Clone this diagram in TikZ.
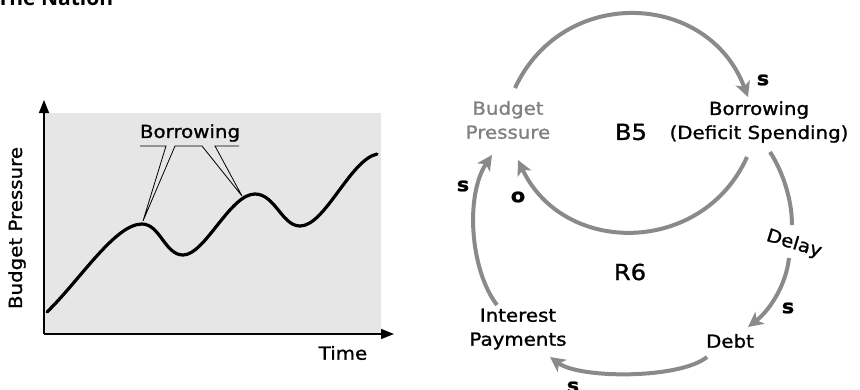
\documentclass[tikz,border=0pt]{standalone}
\usepackage{fontspec}
\setmainfont[FakeStretch=1.1, FakeBold=1.2]{DejaVu Sans}
\newfontfamily\titlefont{Open Sans}
\usetikzlibrary{arrows.meta}
\definecolor{loopgray}{RGB}{138,138,138}
\definecolor{panelgray}{RGB}{230,230,230}
\definecolor{vargray}{RGB}{128,128,128}
\begin{document}
\begin{tikzpicture}[x=1pt,y=-1pt,
  lbl/.style={font=\fontsize{18}{24}\selectfont, align=center, inner sep=0pt},
  chartlbl/.style={font=\fontsize{18}{18}\selectfont, inner sep=0pt},
  pol/.style={font=\bfseries\fontsize{19}{19}\selectfont, inner sep=0pt},
  loopname/.style={font=\fontsize{22}{22}\selectfont, inner sep=0pt},
  link/.style={draw=loopgray, line width=4pt, -{Stealth[length=15pt,width=15pt,inset=4pt]}},
  plainlink/.style={draw=loopgray, line width=4pt},
  axis/.style={draw=black, line width=1.5pt, -{Triangle[length=13pt,width=10pt]}},
  callout/.style={draw=black, line width=0.8pt},
]
\useasboundingbox (0,0) rectangle (860,389);

% title (cut off at the top)
\node[anchor=base west, inner sep=0pt, font=\titlefont\bfseries\fontsize{21}{21}\selectfont] (title) at (-3,5) {The Nation};

% ---------- left chart ----------
\fill[panelgray] (45,113) rectangle (381,334);
\coordinate (origin) at (44,334);
\coordinate (ytip) at (44,100);
\coordinate (xtip) at (394,334);
\draw[axis] (origin) -- (ytip);
\draw[axis] (origin) -- (xtip);
\node[chartlbl, rotate=90] (ylab) at (17,228) {Budget Pressure};
\node[chartlbl] (xlab) at (343,353) {Time};

\draw[line width=3.2pt, line cap=round]
  (47,312) .. controls (80,280) and (115,224) .. (142,224)
           .. controls (160,224) and (165,255) .. (183,255)
           .. controls (205,255) and (230,194) .. (255,194)
           .. controls (275,194) and (282,226) .. (300,226)
           .. controls (325,226) and (350,160) .. (377,154);

\node[chartlbl] (borrowlbl) at (190,133) {Borrowing};
\coordinate (peakA) at (143,221);
\coordinate (peakB) at (242,196);
\draw[callout] (140,146) -- (166,146) -- (peakA) -- (175,146) -- (202,146) -- (peakB) -- (215,146) -- (239,146);

% ---------- right loop diagram ----------
\node[lbl, text=vargray] (bp) at (508,120) {Budget\\Pressure};
\node[lbl] (borr) at (759,122) {Borrowing\\(Deficit Spending)};
\node[lbl] (debt) at (730,341) {Debt};
\node[lbl] (intp) at (518,329) {Interest\\Payments};
\node[lbl, rotate=-17] (delay) at (794,244) {Delay};

\node[loopname] (b5) at (631,132) {B5};
\node[loopname] (r6) at (630,272) {R6};

\coordinate (bpTop) at (515,88);
\coordinate (borrTop) at (748,97);
\coordinate (borrBot) at (747,157);
\coordinate (bpBot) at (518,160);
\coordinate (borrRight) at (770,152);
\coordinate (delayTop) at (792,225);
\coordinate (delayBot) at (789,258);
\coordinate (debtTop) at (748,327);
\coordinate (debtLeft) at (707,357);
\coordinate (intRight) at (550,357);
\coordinate (intTop) at (497,305);
\coordinate (bpLeft) at (492,155);

\draw[link] (bpTop) .. controls (563,-15) and (708,-9) .. (borrTop);
\draw[link] (borrBot) .. controls (703,255) and (564,257) .. (bpBot);
\draw[plainlink] (borrRight) .. controls (783,172) and (792,200) .. (delayTop);
\draw[link] (delayBot) .. controls (786,285) and (770,310) .. (debtTop);
\draw[link] (debtLeft) .. controls (680,379) and (580,379) .. (intRight);
\draw[link] (intTop) .. controls (470,270) and (465,195) .. (bpLeft);

\node[pol] (s1) at (763,80) {s};
\node[pol] (o1) at (518,197) {o};
\node[pol] (s2) at (463,186) {s};
\node[pol] (s3) at (788,308) {s};
\node[pol] (s4) at (573,387) {s};
\end{tikzpicture}
\end{document}
